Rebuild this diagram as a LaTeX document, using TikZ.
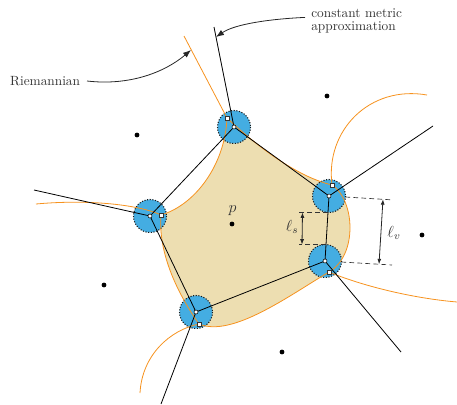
\documentclass[tikz,border=0pt]{standalone}
\usetikzlibrary{arrows.meta}
\definecolor{cellTan}{RGB}{237,222,177}
\definecolor{discBlue}{RGB}{68,173,226}
\definecolor{riemOrange}{RGB}{246,146,30}
\begin{document}
\begin{tikzpicture}[x=0.75pt, y=-0.75pt,
  every node/.style={text=black!80},
  riem/.style={riemOrange, line width=0.6pt},
  cmedge/.style={black, line width=0.6pt},
  disc/.style={fill=discBlue, draw=black!90, dash pattern=on 0.8pt off 1.2pt, line width=0.8pt},
  dimline/.style={black!80, dash pattern=on 3.5pt off 2.5pt, line width=0.5pt},
  dimarrow/.style={black!85, line width=0.6pt, {Latex[length=4pt,width=3pt]}-{Latex[length=4pt,width=3pt]}},
  callout/.style={black!85, line width=0.6pt, -{Latex[length=6pt,width=4.5pt]}}]
  \useasboundingbox (0,0) rectangle (457,404);
  \def\rdisc{16.5}

  \foreach \name/\xx/\yy in {
    p/232/224, s1/327/96, s2/137/135, s3/104/285, s4/282/352, s5/422/235,
    vA/234/127, vB/329/196, vC/325/261, vD/196/312, vE/150/216,
    eA/214/27, eB/433/126, eC/401/352, eD/161/404, eE/34/190,
    rA/227/118, rB/332/185, rC/329/272, rD/199/324, rE/161/215,
    oA/184/36, oB/427/95, oC/457/302, oD/140/393, oE/36/204,
    lsT/328/212.5, lsTo/299/212.5, lsB/326/244.5, lsBo/299/244.5,
    lsTa/302.5/212.5, lsBa/302/244.5,
    lvT/345.5/197, lvTo/391/199.8, lvB/341.5/262, lvBo/392/265,
    lvTa/383/199.3, lvBa/379/264.2,
    riemTip/191/50, cmTip/216/37
  }{
    \coordinate (\name) at (\xx,\yy);
  }

  \fill[cellTan] (rA) .. controls (245,135) and (290,175) .. (rB)
    .. controls (355,200) and (358,255) .. (rC)
    .. controls (290,295) and (232,338) .. (rD)
    .. controls (175,290) and (158,250) .. (rE)
    .. controls (195,205) and (225,165) .. (rA) -- cycle;

  \foreach \v in {vA,vB,vC,vD,vE}
    \path[disc] (\v) circle (\rdisc);

  \draw[riem] (oA) -- (rA) .. controls (245,135) and (290,175) .. (rB)
    .. controls (355,200) and (358,255) .. (rC)
    .. controls (290,295) and (232,338) .. (rD)
    .. controls (175,290) and (158,250) .. (rE)
    .. controls (195,205) and (225,165) .. (rA);
  \draw[riem] (rB) .. controls (325,130) and (370,85) .. (oB);
  \draw[riem] (rC) .. controls (360,285) and (410,298) .. (oC);
  \draw[riem] (rD) .. controls (170,330) and (142,355) .. (oD);
  \draw[riem] (rE) .. controls (140,205) and (90,199) .. (oE);

  \draw[cmedge] (vA) -- (vB) -- (vC) -- (vD) -- (vE) -- cycle;
  \foreach \v/\e in {vA/eA, vB/eB, vC/eC, vD/eD, vE/eE}
    \draw[cmedge] (\v) -- (\e);

  \draw[dimline] (lsT) -- (lsTo);
  \draw[dimline] (lsB) -- (lsBo);
  \draw[dimarrow] (lsTa) -- (lsBa);
  \draw[dimline] (lvT) -- (lvTo);
  \draw[dimline] (lvB) -- (lvBo);
  \draw[dimarrow] (lvTa) -- (lvBa);

  \foreach \s in {p,s1,s2,s3,s4,s5}
    \fill (\s) circle (1.8pt);
  \foreach \v in {vA,vB,vC,vD,vE}
    \filldraw[fill=white, draw=black, line width=0.4pt] (\v) circle (1.5pt);
  \foreach \r in {rA,rB,rC,rD,rE}
    \filldraw[fill=white, draw=black!80, line width=0.5pt] (\r) ++(-1.6pt,-1.6pt) rectangle ++(3.2pt,3.2pt);

  \node[font=\large] (pLab) at (232.5,211) {$p$};
  \node[font=\large] (lsLab) at (292,227) {$\ell_s$};
  \node[font=\large] (lvLab) at (394,233) {$\ell_v$};
  \node[anchor=east, inner sep=5pt] (riemLab) at (87,81) {Riemannian};
  \node[anchor=north west, inner sep=0, align=left, font=\fontsize{10}{9.5}\selectfont] (cmLab) at (311,8.4) {constant metric\\approximation};

  \draw[callout] (riemLab.east) .. controls (130,86) and (165,72) .. (riemTip);
  \draw[callout] ([shift={(-6,9)}]cmLab.north west) .. controls (270,19) and (235,24) .. (cmTip);
\end{tikzpicture}
\end{document}
